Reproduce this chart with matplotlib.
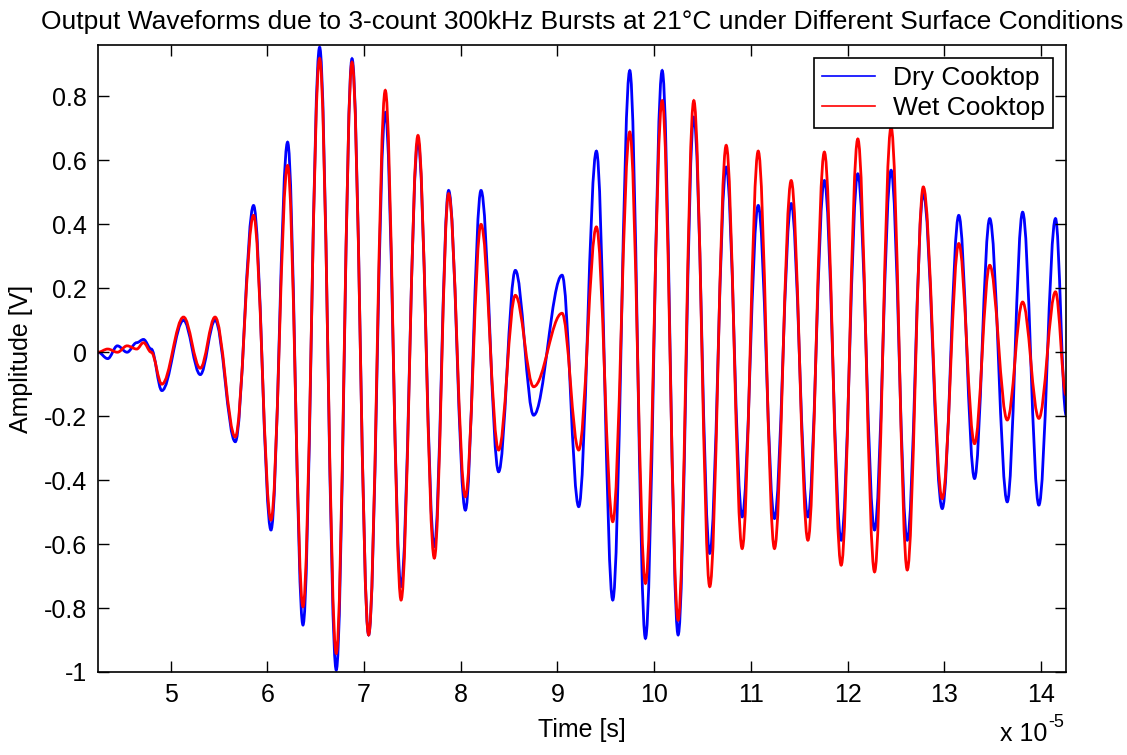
import numpy as np
import matplotlib
matplotlib.use("Agg")
import matplotlib.pyplot as plt
from matplotlib.path import Path
from matplotlib.patches import PathPatch
from matplotlib.lines import Line2D

plt.rcParams['font.family'] = ['Liberation Sans', 'DejaVu Sans']
plt.rcParams['axes.unicode_minus'] = False

# time in units of 1e-5 s, read at turning points of the waveforms
t = [4.25, 4.35, 4.45, 4.55, 4.65, 4.72, 4.80, 4.91, 5.134, 5.307, 5.46,
     5.669, 5.858, 6.038, 6.21, 6.369, 6.541, 6.713, 6.876, 7.048, 7.22,
     7.383, 7.558, 7.727, 7.875, 8.048, 8.21, 8.392, 8.565, 8.754, 9.048,
     9.22, 9.403, 9.572, 9.748, 9.91, 10.083, 10.248, 10.41, 10.575, 10.745,
     10.91, 11.076, 11.244, 11.417, 11.59, 11.76, 11.934, 12.106, 12.279, 12.45,
     12.617, 12.783, 12.979, 13.15, 13.313, 13.47, 13.651, 13.81, 13.978, 14.15,
     14.26]

dry = [0.0, -0.02, 0.02, 0.0, 0.03, 0.04, 0.01, -0.12, 0.10, -0.07, 0.10,
       -0.28, 0.459, -0.556, 0.657, -0.853, 0.954, -0.994, 0.918, -0.884, 0.75,
       -0.733, 0.66, -0.608, 0.506, -0.494, 0.506, -0.374, 0.256, -0.197, 0.241,
       -0.483, 0.629, -0.775, 0.881, -0.895, 0.881, -0.884, 0.735, -0.629, 0.579,
       -0.515, 0.459, -0.52, 0.465, -0.515, 0.537, -0.588, 0.558, -0.556, 0.569,
       -0.588, 0.496, -0.489, 0.428, -0.395, 0.418, -0.468, 0.438, -0.478, 0.418,
       -0.197]

wet = [0.0, 0.01, 0.0, 0.02, 0.01, 0.03, 0.0, -0.10, 0.11, -0.05, 0.11,
       -0.265, 0.428, -0.525, 0.584, -0.796, 0.919, -0.942, 0.907, -0.884, 0.819,
       -0.775, 0.678, -0.644, 0.496, -0.452, 0.40, -0.306, 0.178, -0.108, 0.122,
       -0.306, 0.392, -0.530, 0.689, -0.723, 0.787, -0.838, 0.787, -0.733, 0.647,
       -0.614, 0.629, -0.614, 0.537, -0.588, 0.626, -0.666, 0.667, -0.687, 0.704,
       -0.681, 0.517, -0.458, 0.340, -0.286, 0.272, -0.212, 0.157, -0.207, 0.189,
       -0.134]

labels = ['Dry Cooktop', 'Wet Cooktop']
colors = ['#0000ff', '#ff0000']


def wave_path(x, y, k=0.3634):
    # smooth curve through turning points, flat tangent at each one
    verts = [(x[0], y[0])]
    codes = [Path.MOVETO]
    for i in range(len(x) - 1):
        dx = x[i + 1] - x[i]
        verts += [(x[i] + k * dx, y[i]), (x[i + 1] - k * dx, y[i + 1]), (x[i + 1], y[i + 1])]
        codes += [Path.CURVE4] * 3
    return Path(verts, codes)


def fmt(v, pos):
    if abs(v) < 1e-9:
        return '0'
    return '%g' % v


fig = plt.figure(figsize=(11.27, 7.55), dpi=100)
ax = fig.add_axes([0.087, 0.110, 0.859, 0.830])

for ys, c in zip([dry, wet], colors):
    ax.add_patch(PathPatch(wave_path(t, ys), fill=False, edgecolor=c, lw=2.0))

ax.set_xlim(4.25, 14.26)
ax.set_ylim(-1, 0.96)
ax.set_xticks(np.arange(5, 15))
ax.set_yticks(np.round(np.arange(-1, 0.81, 0.2), 1))
ax.yaxis.set_major_formatter(plt.FuncFormatter(fmt))
ax.tick_params(direction='in', length=8, width=1, top=True, right=True,
               labelsize=18, pad=8)
for s in ax.spines.values():
    s.set_linewidth(1.2)

ax.set_xlabel('Time [s]', fontsize=18, labelpad=8)
ax.set_ylabel('Amplitude [V]', fontsize=18, labelpad=8)
ax.set_title('Output Waveforms due to 3-count 300kHz Bursts at 21\u00b0C under Different Surface Conditions',
             fontsize=19, pad=12)
fig.text(0.929, 0.012, 'x 10', fontsize=18, ha='right', va='bottom')
fig.text(0.930, 0.032, '-5', fontsize=13, ha='left', va='bottom')

handles = [Line2D([], [], color=c, lw=1.2) for c in colors]
leg = ax.legend(handles, labels, loc='upper right', fontsize=19, fancybox=False,
                edgecolor='black', framealpha=1, borderaxespad=0.5,
                handlelength=2.0, handletextpad=0.7, borderpad=0.3,
                labelspacing=0.22)
leg.get_frame().set_linewidth(1.2)

fig.savefig('out.png', dpi=100)
